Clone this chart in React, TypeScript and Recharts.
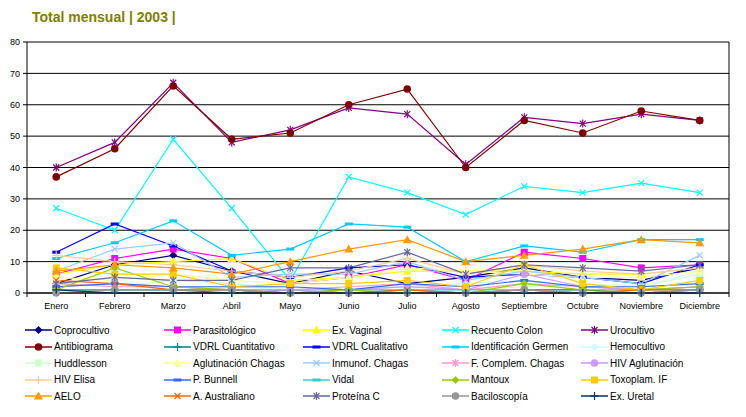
import React from "react";
import { LineChart, Line, XAxis, YAxis, CartesianGrid } from "recharts";

const MONTHS = ["Enero", "Febrero", "Marzo", "Abril", "Mayo", "Junio", "Julio", "Agosto", "Septiembre", "Octubre", "Noviembre", "Diciembre"];
const Y_TICKS = [0, 10, 20, 30, 40, 50, 60, 70, 80];

const coprocultivo = [3, 9, 12, 7, 3, 7, 3, 5, 8, 5, 4, 8];
const parasitologico = [6, 11, 14, 11, 3, 5, 9, 4, 13, 11, 8, 9];
const exVaginal = [6, 9, 10, 11, 4, 5, 7, 7, 7, 6, 6, 8];
const recuentoColon = [27, 20, 49, 27, 4, 37, 32, 25, 34, 32, 35, 32];
const urocultivo = [40, 48, 67, 48, 52, 59, 57, 41, 56, 54, 57, 55];
const antibiograma = [37, 46, 66, 49, 51, 60, 65, 40, 55, 51, 58, 55];
const vdrlCuantitativo = [1, 1, 1, 0, 1, 0, 1, 0, 1, 1, 0, 1];
const vdrlCualitativo = [13, 22, 15, 7, 5, 8, 9, 5, 6, 5, 3, 9];
const identificacionGermen = [11, 16, 23, 12, 14, 22, 21, 10, 15, 13, 17, 17];
const hemocultivo = [2, 3, 1, 2, 1, 2, 2, 3, 4, 2, 2, 7];
const huddlesson = [3, 2, 4, 3, 1, 1, 2, 1, 2, 3, 2, 6];
const aglutinacionChagas = [5, 4, 6, 4, 3, 5, 8, 7, 6, 5, 5, 7];
const inmunofChagas = [7, 14, 16, 5, 6, 6, 10, 4, 7, 5, 3, 12];
const fComplemChagas = [3, 2, 2, 1, 1, 2, 3, 1, 3, 2, 1, 2];
const hivAglutinacion = [2, 3, 2, 1, 1, 1, 2, 1, 6, 2, 1, 2];
const hivElisa = [12, 10, 9, 7, 5, 7, 11, 6, 9, 7, 6, 8];
const pBunnell = [2, 3, 2, 2, 2, 1, 3, 2, 4, 2, 2, 3];
const vidal = [1, 1, 1, 1, 0, 1, 1, 1, 1, 0, 1, 1];
const mantoux = [1, 8, 2, 1, 0, 1, 0, 0, 3, 1, 1, 2];
const toxoplamIF = [8, 6, 6, 2, 3, 3, 4, 2, 9, 3, 1, 4];
const aelo = [7, 9, 8, 6, 10, 14, 17, 10, 12, 14, 17, 16];
const aAustraliano = [4, 3, 1, 1, 0, 0, 1, 0, 1, 0, 1, 1];
const proteinaC = [3, 5, 4, 4, 8, 8, 13, 6, 9, 8, 7, 9];
const baciloscopia = [0, 1, 1, 1, 0, 0, 0, 0, 1, 0, 0, 1];
const exUretal = [1, 0, 0, 0, 0, 0, 0, 0, 0, 0, 0, 0];

type Shape = "diamond" | "square" | "triangle" | "x" | "star" | "circle" | "plus" | "dash";
interface Series { name: string; values: number[]; color: string; shape: Shape; }

const SERIES: Series[] = [
  { name: "Coprocultivo", values: coprocultivo, color: "#000080", shape: "diamond" },
  { name: "Parasitológico", values: parasitologico, color: "#FF00FF", shape: "square" },
  { name: "Ex. Vaginal", values: exVaginal, color: "#FFFF00", shape: "triangle" },
  { name: "Recuento Colon", values: recuentoColon, color: "#00FFFF", shape: "x" },
  { name: "Urocultivo", values: urocultivo, color: "#800080", shape: "star" },
  { name: "Antibiograma", values: antibiograma, color: "#800000", shape: "circle" },
  { name: "VDRL Cuantitativo", values: vdrlCuantitativo, color: "#008080", shape: "plus" },
  { name: "VDRL Cualitativo", values: vdrlCualitativo, color: "#0000FF", shape: "dash" },
  { name: "Identificación Germen", values: identificacionGermen, color: "#00CCFF", shape: "dash" },
  { name: "Hemocultivo", values: hemocultivo, color: "#CCFFFF", shape: "diamond" },
  { name: "Huddlesson", values: huddlesson, color: "#CCFFCC", shape: "square" },
  { name: "Aglutinación Chagas", values: aglutinacionChagas, color: "#FFFF99", shape: "triangle" },
  { name: "Inmunof. Chagas", values: inmunofChagas, color: "#99CCFF", shape: "x" },
  { name: "F. Complem. Chagas", values: fComplemChagas, color: "#FF99CC", shape: "star" },
  { name: "HIV Aglutinación", values: hivAglutinacion, color: "#CC99FF", shape: "circle" },
  { name: "HIV Elisa", values: hivElisa, color: "#FFCC99", shape: "plus" },
  { name: "P. Bunnell", values: pBunnell, color: "#3366FF", shape: "dash" },
  { name: "Vidal", values: vidal, color: "#33CCCC", shape: "dash" },
  { name: "Mantoux", values: mantoux, color: "#99CC00", shape: "diamond" },
  { name: "Toxoplam. IF", values: toxoplamIF, color: "#FFCC00", shape: "square" },
  { name: "AELO", values: aelo, color: "#FF9900", shape: "triangle" },
  { name: "A. Australiano", values: aAustraliano, color: "#FF6600", shape: "x" },
  { name: "Proteína C", values: proteinaC, color: "#666699", shape: "star" },
  { name: "Baciloscopía", values: baciloscopia, color: "#969696", shape: "circle" },
  { name: "Ex. Uretal", values: exUretal, color: "#003366", shape: "plus" },
];

const data = MONTHS.map((m, i) => {
  const row: Record<string, string | number> = { month: m };
  SERIES.forEach((s, k) => { row["s" + k] = s.values[i]; });
  return row;
});

function Marker({ shape, color, cx, cy }: { shape: Shape; color: string; cx: number; cy: number }) {
  switch (shape) {
    case "diamond":
      return <polygon points={`${cx},${cy - 4} ${cx + 4},${cy} ${cx},${cy + 4} ${cx - 4},${cy}`} fill={color} />;
    case "square":
      return <rect x={cx - 3.5} y={cy - 3.5} width={7} height={7} fill={color} />;
    case "triangle":
      return <polygon points={`${cx},${cy - 4.5} ${cx + 4.5},${cy + 3.5} ${cx - 4.5},${cy + 3.5}`} fill={color} />;
    case "x":
      return (
        <g stroke={color} strokeWidth={1.2}>
          <line x1={cx - 3} y1={cy - 3} x2={cx + 3} y2={cy + 3} />
          <line x1={cx - 3} y1={cy + 3} x2={cx + 3} y2={cy - 3} />
        </g>
      );
    case "star":
      return (
        <g stroke={color} strokeWidth={1.2}>
          <line x1={cx - 3} y1={cy - 3} x2={cx + 3} y2={cy + 3} />
          <line x1={cx - 3} y1={cy + 3} x2={cx + 3} y2={cy - 3} />
          <line x1={cx} y1={cy - 4} x2={cx} y2={cy + 4} />
        </g>
      );
    case "circle":
      return <circle cx={cx} cy={cy} r={3.8} fill={color} />;
    case "plus":
      return (
        <g stroke={color} strokeWidth={1.2}>
          <line x1={cx - 4} y1={cy} x2={cx + 4} y2={cy} />
          <line x1={cx} y1={cy - 4} x2={cx} y2={cy + 4} />
        </g>
      );
    case "dash":
    default:
      return <rect x={cx - 4} y={cy - 1.5} width={8} height={3} fill={color} />;
  }
}

const FONT = "'Liberation Sans', Arial, sans-serif";

function XTick(props: any) {
  const { x, y, payload, index, width } = props;
  const bw = width / MONTHS.length;
  const axisY = y - 4;
  return (
    <g>
      <line x1={x - bw / 2} y1={axisY} x2={x - bw / 2} y2={axisY + 4} stroke="#000" />
      {index === MONTHS.length - 1 && (
        <line x1={x + bw / 2} y1={axisY} x2={x + bw / 2} y2={axisY + 4} stroke="#000" />
      )}
      <text x={x} y={y + 12} textAnchor="middle" fontSize={9} fontFamily={FONT} fill="#000">
        {payload.value}
      </text>
    </g>
  );
}

function LegendBlock() {
  const cols = 5;
  return (
    <div style={{ position: "absolute", left: 0, top: 323, width: 746, height: 90 }}>
      {SERIES.map((s, i) => {
        const col = i % cols;
        const row = Math.floor(i / cols);
        return (
          <div
            key={s.name}
            style={{
              position: "absolute",
              left: 25 + col * 139,
              top: row * 16.6,
              height: 14,
              display: "flex",
              alignItems: "center",
              whiteSpace: "nowrap",
            }}
          >
            <svg width={29} height={14} style={{ display: "block" }}>
              <line x1={0} y1={7} x2={27} y2={7} stroke={s.color} strokeWidth={1.5} />
              <Marker shape={s.shape} color={s.color} cx={13.5} cy={7} />
            </svg>
            <span style={{ fontFamily: FONT, fontSize: 10, color: "#000" }}>{s.name}</span>
          </div>
        );
      })}
    </div>
  );
}

export default function App() {
  return (
    <div style={{ position: "fixed", left: 0, top: 0, width: 746, height: 417, background: "#fff" }}>
      <div
        style={{
          position: "absolute",
          left: 32,
          top: 9,
          fontFamily: FONT,
          fontWeight: "bold",
          fontSize: 14,
          lineHeight: "16px",
          color: "#808000",
          zIndex: 2,
        }}
      >
        Total mensual | 2003 |
      </div>
      <LineChart width={746} height={417} data={data} margin={{ top: 42, right: 16, bottom: 104, left: 0 }}>
        <CartesianGrid vertical={false} stroke="#000" strokeWidth={1} />
        <XAxis
          dataKey="month"
          scale="band"
          height={20}
          tickLine={false}
          tickSize={4}
          tickMargin={0}
          interval={0}
          axisLine={{ stroke: "#000" }}
          tick={<XTick />}
        />
        <YAxis
          width={27}
          domain={[0, 80]}
          ticks={Y_TICKS}
          interval={0}
          tickSize={4}
          tickMargin={3}
          axisLine={{ stroke: "#000" }}
          tickLine={{ stroke: "#000" }}
          tick={{ fontSize: 9, fontFamily: FONT, fill: "#000" }}
        />
        <YAxis yAxisId="r" orientation="right" width={1} tick={false} tickLine={false} axisLine={{ stroke: "#000" }} />
        {SERIES.map((s, k) => (
          <Line
            key={s.name}
            dataKey={"s" + k}
            name={s.name}
            stroke={s.color}
            strokeWidth={1.2}
            isAnimationActive={false}
            dot={(p: any) => (
              <g key={`d-${k}-${p.index}`}>
                <Marker shape={s.shape} color={s.color} cx={p.cx} cy={p.cy} />
              </g>
            )}
            activeDot={false}
          />
        ))}
      </LineChart>
      <LegendBlock />
    </div>
  );
}
